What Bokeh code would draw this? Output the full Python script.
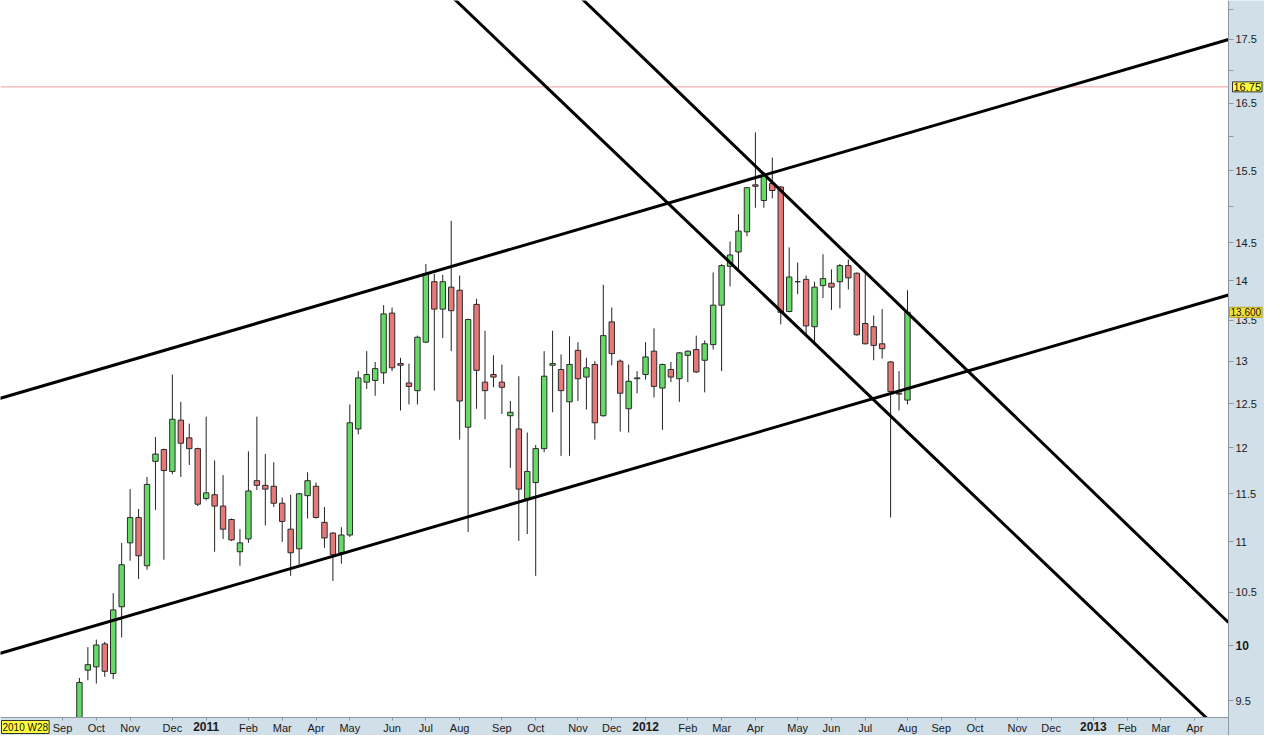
import math
from bokeh.plotting import figure
from bokeh.models import (Range1d, FixedTicker, Label, ColumnDataSource,
                          LinearAxis, LogAxis)
from bokeh.embed import file_html
from bokeh.resources import INLINE

# ---------------- data ----------------
# weekly candles; x = weeks since 2010 W28 (week of 12 Jul 2010)
first_week = 10
opens = [9.20, 9.77, 9.80, 10.01, 9.74, 10.36, 10.99, 11.25, 10.76, 11.85,
         11.98, 11.74, 12.31, 12.11, 11.99, 11.45, 11.49, 11.37, 11.23, 10.90,
         11.03, 11.64, 11.59, 11.58, 11.40, 11.13, 10.93, 11.48, 11.58, 11.20,
         11.09, 10.89, 11.07, 12.21, 12.75, 12.77, 12.86, 13.59, 12.97, 12.74,
         12.65, 13.23, 13.99, 13.64, 13.92, 13.88, 12.23, 13.70, 12.75, 12.84,
         12.75, 12.36, 12.21, 11.45, 11.62, 11.99, 12.95, 12.90, 12.52, 13.13,
         12.81, 12.96, 12.36, 13.48, 13.00, 12.44, 12.79, 12.84, 13.12, 12.68,
         12.90, 12.79, 13.07, 13.14, 13.01, 13.20, 13.69, 14.19, 14.38, 14.65,
         15.30, 15.08, 15.32, 15.27, 13.61, 13.99, 14.02, 13.42, 13.94, 13.97,
         13.99, 14.20, 14.10, 13.46, 13.42, 13.21, 12.99, 12.62, 12.54]
highs = [9.70, 9.98, 10.05, 10.03, 10.49, 10.99, 11.55, 11.34, 11.68, 12.12,
         11.99, 12.84, 12.52, 12.27, 12.00, 12.35, 11.86, 11.70, 11.24, 11.13,
         11.96, 12.35, 11.93, 11.84, 11.46, 11.49, 11.51, 11.73, 11.62, 11.36,
         11.10, 11.15, 12.49, 12.88, 13.12, 12.99, 13.69, 13.66, 13.04, 12.97,
         13.31, 14.22, 14.09, 14.08, 14.80, 14.07, 13.52, 13.77, 13.37, 13.07,
         12.96, 12.53, 12.82, 12.17, 12.03, 13.12, 13.37, 13.08, 13.30, 13.23,
         13.04, 13.00, 13.95, 13.66, 13.02, 12.96, 12.88, 13.23, 13.40, 12.97,
         12.99, 13.11, 13.13, 13.31, 13.25, 14.11, 14.22, 14.52, 14.89, 15.27,
         16.06, 15.48, 15.69, 15.28, 14.44, 14.24, 14.07, 13.99, 14.35, 14.15,
         14.22, 14.28, 14.11, 14.09, 13.56, 13.64, 13.00, 12.88, 13.88]
lows = [9.10, 9.68, 9.65, 9.71, 9.69, 10.07, 10.81, 10.63, 10.72, 11.33,
        10.82, 11.71, 11.68, 11.81, 11.37, 11.43, 10.90, 11.03, 11.01, 10.76,
        10.99, 11.54, 11.17, 11.36, 11.00, 10.66, 10.77, 11.24, 11.24, 10.94,
        10.61, 10.78, 11.05, 12.15, 12.67, 12.59, 12.73, 12.88, 12.42, 12.49,
        12.49, 13.22, 12.65, 13.28, 13.12, 12.09, 11.10, 12.44, 12.32, 12.69,
        12.38, 11.78, 11.01, 11.08, 10.66, 11.95, 12.40, 11.91, 11.91, 12.53,
        12.43, 12.09, 12.35, 12.95, 12.18, 12.17, 12.62, 12.78, 12.57, 12.20,
        12.75, 12.52, 12.75, 12.86, 12.63, 13.14, 12.88, 13.93, 14.13, 14.59,
        14.98, 14.98, 15.11, 13.45, 13.60, 13.83, 13.31, 13.21, 13.78, 13.63,
        13.65, 13.89, 13.31, 13.20, 13.01, 13.03, 11.25, 12.42, 12.49]
closes = [9.66, 9.82, 10.00, 9.76, 10.33, 10.77, 11.25, 10.86, 11.60, 11.93,
          11.75, 12.32, 12.05, 11.99, 11.39, 11.51, 11.37, 11.13, 11.02, 10.99,
          11.53, 11.59, 11.55, 11.40, 11.21, 10.89, 11.50, 11.64, 11.25, 11.04,
          10.87, 11.07, 12.28, 12.80, 12.84, 12.91, 13.58, 12.92, 12.95, 12.70,
          13.29, 14.09, 13.64, 13.99, 13.62, 12.53, 13.51, 12.89, 12.65, 12.81,
          12.69, 12.40, 11.55, 11.74, 11.99, 12.82, 12.97, 12.65, 12.96, 12.79,
          12.92, 12.28, 13.31, 13.09, 12.62, 12.76, 12.80, 13.05, 12.70, 12.96,
          12.81, 13.10, 13.12, 12.87, 13.21, 13.69, 14.20, 14.34, 14.66, 15.26,
          15.28, 15.43, 15.22, 13.60, 14.05, 13.99, 13.43, 13.92, 14.03, 13.92,
          14.20, 14.04, 13.32, 13.21, 13.19, 13.15, 12.64, 12.61, 13.60]

# time-axis ticks (week index of the first weekly bar of each month)
month_ticks = [8, 12, 16, 21, 30, 34, 38, 42, 47, 51, 55, 60, 64, 69, 73,
               82, 86, 90, 95, 99, 103, 108, 112, 116, 121, 125,
               134, 138, 142]
month_labels = ["Sep", "Oct", "Nov", "Dec", "Feb", "Mar", "Apr", "May", "Jun",
                "Jul", "Aug", "Sep", "Oct", "Nov", "Dec",
                "Feb", "Mar", "Apr", "May", "Jun", "Jul", "Aug", "Sep", "Oct",
                "Nov", "Dec", "Feb", "Mar", "Apr"]
year_ticks = [25, 77, 130]
year_labels = ["2011", "2012", "2013"]

# price-axis ticks
price_ticks = [9.5, 10.5, 11, 11.5, 12, 12.5, 13, 13.5, 14, 14.5,
               15.5, 16.5, 17.5]
price_labels = ["9.5", "10.5", "11", "11.5", "12", "12.5", "13", "13.5",
                "14", "14.5", "15.5", "16.5", "17.5"]
minor_price_ticks = [15, 16, 17, 18]
bold_price_ticks = [10]
bold_price_labels = ["10"]

# trend lines (week, price) end points
trend_up_top_x = [-0.28, 145.99]
trend_up_top_y = [12.535, 17.50]
trend_up_bot_x = [-0.28, 145.99]
trend_up_bot_y = [9.903, 13.82]
trend_dn_outer_x = [53.56, 144.57]
trend_dn_outer_y = [18.277, 9.266]
trend_dn_inner_x = [68.71, 145.99]
trend_dn_inner_y = [18.277, 10.21]

cursor_price = 16.75
cursor_week = 0
cursor_week_label = "2010 W28"
last_close_label = "13.600"

# ---------------- layout ----------------
W, H = 1264, 735
BAND_R, BAND_B = 36, 18
FW, FH = W - BAND_R, H - BAND_B
x0, x1 = 0.66, 145.99          # visible weeks in the plotting area
y0, y1 = 9.352, 18.142         # visible prices in the plotting area
KX = FW / (x1 - x0)            # px per week
KY = FH / math.log(y1 / y0)    # px per log-unit
x_ext = x1 + BAND_R / KX
y_ext = y0 * math.exp(-BAND_B / KY)


def y_below(d):
    return y0 * math.exp(-d / KY)


FONT = "Liberation Sans"
UP, DOWN, EDGE = "#66da66", "#e67878", "#2b2b2b"
BAND = "#d1dfe8"
AX = "#8c9aa6"

p = figure(width=W, height=H, x_range=Range1d(x0, x_ext),
           y_range=Range1d(y_ext, y1), y_axis_type="log",
           x_axis_location=None, y_axis_location=None,
           output_backend="svg", toolbar_location=None,
           min_border=0, min_border_left=0, min_border_right=0,
           min_border_top=0, min_border_bottom=0)
p.outline_line_color = None
p.xgrid.visible = False
p.ygrid.visible = False
p.border_fill_color = BAND
p.background_fill_color = "white"

# cursor lines
p.line([x0, x1], [cursor_price, cursor_price], line_color="#ee9a9a", line_width=1)
p.line([cursor_week, cursor_week], [y0, y1], line_color="#ee9a9a", line_width=1)

# candles
week = list(range(first_week, first_week + len(opens)))
src = ColumnDataSource(dict(
    x=week, o=opens, h=highs, l=lows, c=closes,
    top=[max(a, b) for a, b in zip(opens, closes)],
    bot=[min(a, b) for a, b in zip(opens, closes)],
    col=[UP if c >= o else DOWN for o, c in zip(opens, closes)],
))
p.segment(x0="x", y0="l", x1="x", y1="h", source=src, line_color="#222222",
          line_width=1)
p.vbar(x="x", width=0.64, top="top", bottom="bot", source=src,
       fill_color="col", line_color=EDGE, line_width=1)

# trend lines
for xs, ys in [(trend_up_top_x, trend_up_top_y), (trend_up_bot_x, trend_up_bot_y),
               (trend_dn_outer_x, trend_dn_outer_y),
               (trend_dn_inner_x, trend_dn_inner_y)]:
    p.line(xs, ys, line_width=3, line_color="black")

# axis bands (drawn over anything that runs past the plotting area)
p.quad(left=[x1], right=[x_ext + 5], bottom=[y_ext * 0.9], top=[y1 * 1.1],
       fill_color=BAND, line_color=None)
p.quad(left=[x0 - 5], right=[x_ext + 5], bottom=[y_ext * 0.9], top=[y0],
       fill_color=BAND, line_color=None)


def style_axis(ax, size="11px", bold=False, line=True):
    ax.major_label_text_font = FONT
    ax.major_label_text_font_size = size
    ax.major_label_text_font_style = "bold" if bold else "normal"
    ax.major_label_text_color = "#1a1a1a"
    ax.major_tick_in = 0
    ax.minor_tick_in = 0
    ax.major_tick_line_color = AX
    ax.minor_tick_line_color = AX
    ax.axis_line_color = AX if line else None


# price axis (right)
ya = LogAxis(ticker=FixedTicker(ticks=price_ticks, minor_ticks=minor_price_ticks),
             fixed_location=x1,
             major_label_overrides={float(t): s for t, s in zip(price_ticks, price_labels)})
style_axis(ya)
ya.major_tick_out = 5
ya.minor_tick_out = 5
ya.major_label_standoff = 2
p.add_layout(ya, "right")

ya_b = LogAxis(ticker=FixedTicker(ticks=bold_price_ticks, minor_ticks=[]),
               fixed_location=x1,
               major_label_overrides={float(t): s for t, s in zip(bold_price_ticks, bold_price_labels)})
style_axis(ya_b, size="12px", bold=True, line=False)
ya_b.major_tick_out = 5
ya_b.major_label_standoff = 2
p.add_layout(ya_b, "right")

# time axis (bottom)
xa = LinearAxis(ticker=FixedTicker(ticks=month_ticks, minor_ticks=[]),
                fixed_location=y0, bounds=(x0, x1),
                major_label_overrides={int(t): s for t, s in zip(month_ticks, month_labels)})
style_axis(xa)
xa.major_tick_out = 3
xa.major_label_standoff = 1
p.add_layout(xa, "below")

xa_y = LinearAxis(ticker=FixedTicker(ticks=year_ticks, minor_ticks=[]),
                  fixed_location=y0,
                  major_label_overrides={int(t): s for t, s in zip(year_ticks, year_labels)})
style_axis(xa_y, size="12px", bold=True, line=False)
xa_y.major_tick_out = 3
xa_y.major_label_standoff = 1
p.add_layout(xa_y, "below")

# cursor / last value boxes
p.add_layout(Label(x=x1 + 4 / KX, y=cursor_price, text=f"{cursor_price:.2f}",
                   text_align="left", text_baseline="middle", text_font=FONT,
                   text_font_size="11px", text_color="#111111",
                   background_fill_color="#ffff3c", border_line_color="#333333",
                   padding=1))
p.add_layout(Label(x=x1 + 1 / KX, y=closes[-1], text=last_close_label,
                   text_align="left", text_baseline="middle", text_font=FONT,
                   text_font_size="10px", text_color="#111111",
                   background_fill_color="#f2e23a", border_line_color="#b8a020",
                   padding=1))
p.add_layout(Label(x=x0 + 1 / KX, y=y_below(3), text=cursor_week_label,
                   text_align="left", text_baseline="top", text_font=FONT,
                   text_font_size="10px", text_color="#111111",
                   background_fill_color="#ffff3c", border_line_color="#333333",
                   padding=1))

open("out.html", "w").write(file_html(p, INLINE, "chart"))
